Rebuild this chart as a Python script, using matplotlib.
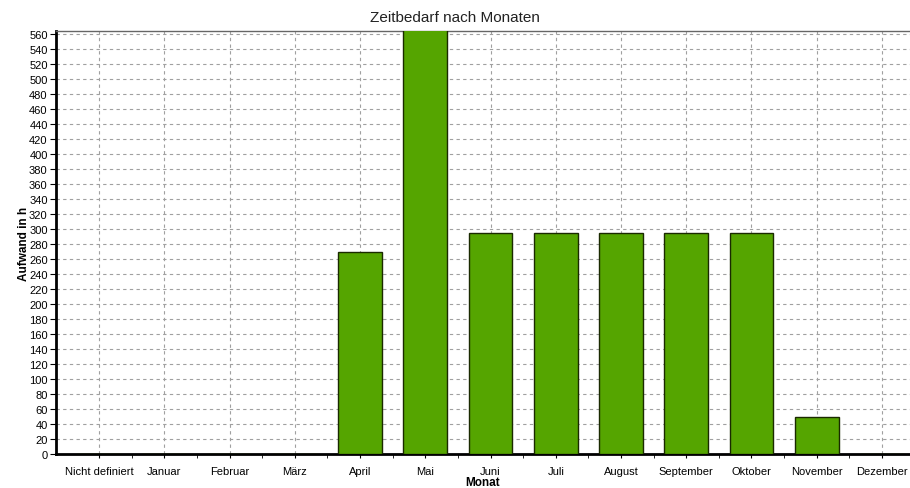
import matplotlib.pyplot as plt
import numpy as np

plt.rcParams["font.family"] = ["Liberation Sans", "DejaVu Sans"]

months = ["Nicht definiert", "Januar", "Februar", "März", "April", "Mai", "Juni",
          "Juli", "August", "September", "Oktober", "November", "Dezember"]
hours = [0, 0, 0, 0, 269, 600, 295, 295, 295, 295, 295, 50, 0]

fig = plt.figure(figsize=(9.1, 4.89), dpi=100)
ax = fig.add_axes([56 / 910, 1 - 455 / 489, 1 - 56 / 910, (455 - 32) / 489])

x = np.arange(len(months))
ax.bar(x, hours, width=0.67, color="#55a500", edgecolor="#1a2a00", linewidth=1, zorder=3)

ax.set_xlim(-0.66, 12.43)
ax.set_ylim(0, 564)
ax.set_xticks(x)
ax.set_xticklabels(months, fontsize=8)
ax.set_xticks(x[:-1] + 0.5, minor=True)
ax.set_yticks(np.arange(0, 561, 20))
ax.tick_params(axis="y", labelsize=8, length=4, pad=2)
ax.tick_params(axis="x", which="both", length=3, pad=6)

ax.grid(True, linestyle=(0, (3, 3)), color="#a0a0a0", linewidth=0.8, zorder=0)
ax.set_axisbelow(True)

ax.spines["left"].set_linewidth(2)
ax.spines["bottom"].set_linewidth(2)
ax.spines["right"].set_visible(False)
ax.spines["top"].set_color("#666666")
ax.spines["top"].set_linewidth(1)

ax.set_xlabel("Monat", fontsize=8.5, fontweight="bold", labelpad=0)
ax.set_ylabel("Aufwand in h", fontsize=8.5, fontweight="bold", labelpad=-1)
fig.suptitle("Zeitbedarf nach Monaten", fontsize=11, y=0.978, color="#222222")

fig.savefig("out.png", dpi=100)
